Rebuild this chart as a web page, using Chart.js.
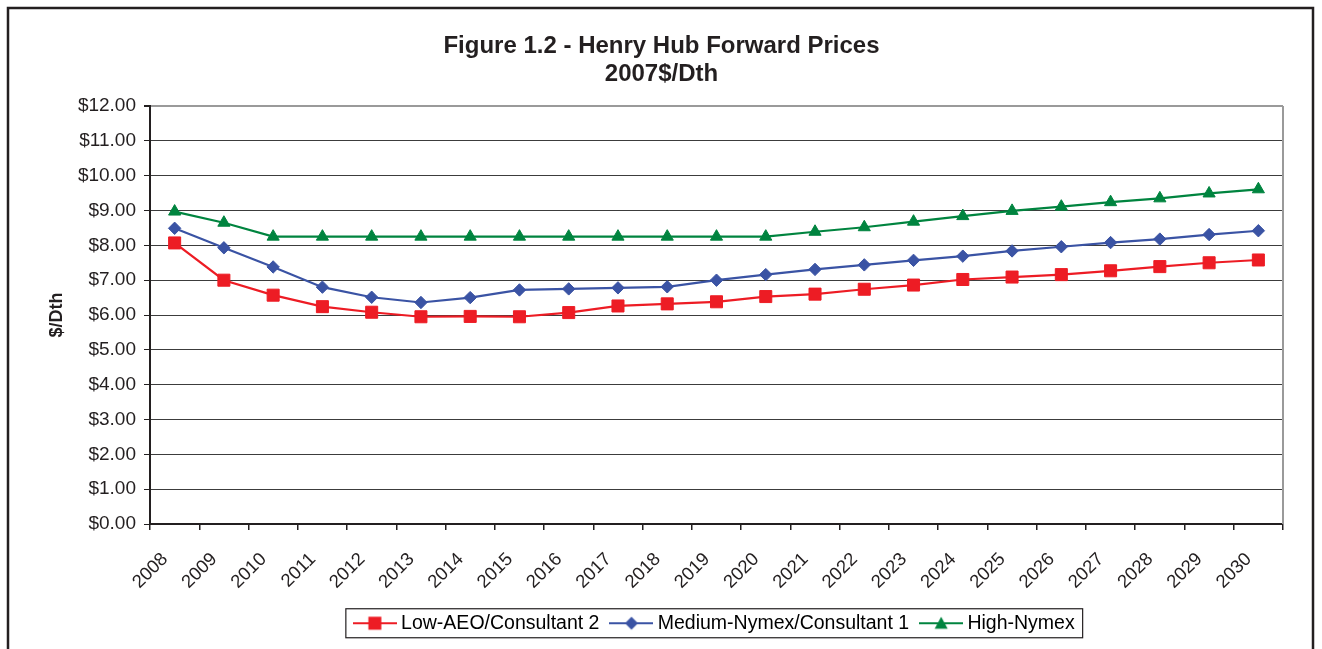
<!DOCTYPE html>
<html>
<head>
<meta charset="utf-8">
<title>Henry Hub Forward Prices</title>
<script src="https://cdn.jsdelivr.net/npm/chart.js@4.4.1/dist/chart.umd.min.js"></script>
<style>
  html, body { margin: 0; padding: 0; background: #fff; }
  #wrap { position: relative; width: 1322px; height: 649px; }
</style>
</head>
<body>
<div id="wrap"><canvas id="myChart" width="1322" height="649"></canvas></div>
<script>
// data
var years = ['2008','2009','2010','2011','2012','2013','2014','2015','2016','2017','2018','2019',
             '2020','2021','2022','2023','2024','2025','2026','2027','2028','2029','2030'];

var lowAeo = [8.07, 7.00, 6.57, 6.24, 6.08, 5.95, 5.96, 5.95, 6.07, 6.26, 6.32, 6.38,
              6.53, 6.60, 6.74, 6.86, 7.02, 7.09, 7.16, 7.27, 7.39, 7.50, 7.58];

var mediumNymex = [8.49, 7.93, 7.38, 6.80, 6.51, 6.36, 6.50, 6.72, 6.75, 6.78, 6.81, 7.00,
                   7.16, 7.31, 7.44, 7.57, 7.69, 7.84, 7.96, 8.08, 8.18, 8.31, 8.42];

var highNymex = [8.97, 8.65, 8.25, 8.25, 8.25, 8.25, 8.25, 8.25, 8.25, 8.25, 8.25, 8.25,
                 8.25, 8.39, 8.52, 8.68, 8.84, 8.99, 9.11, 9.24, 9.35, 9.49, 9.61];

var seriesNames = ['Low-AEO/Consultant 2', 'Medium-Nymex/Consultant 1', 'High-Nymex'];
var titleLines = ['Figure 1.2 - Henry Hub Forward Prices', '2007$/Dth'];

var RED = '#ed1c24', BLUE = '#3a53a4', GREEN = '#00843f', INK = '#231f20';
var FONT = "'Liberation Sans', Arial, sans-serif";

// legend swatch: short line with the marker on it
function swatch(color, style) {
	var c = document.createElement('canvas');
	c.width = 44; c.height = 16;
	var g = c.getContext('2d');
	g.strokeStyle = color;
	g.fillStyle = color;
	g.lineWidth = 2;
	g.beginPath(); g.moveTo(0, 8); g.lineTo(44, 8); g.stroke();
	g.beginPath();
	if (style === 'rect') {
		g.rect(15.5, 1.5, 13, 13);
	} else if (style === 'rectRot') {
		g.moveTo(15.5, 8); g.lineTo(22, 1.5); g.lineTo(28.5, 8); g.lineTo(22, 14.5); g.closePath();
	} else {
		g.moveTo(22, 1.5); g.lineTo(28.5, 13.5); g.lineTo(15.5, 13.5); g.closePath();
	}
	g.fill();
	return c;
}

var swatches = [swatch(RED, 'rect'), swatch(BLUE, 'rectRot'), swatch(GREEN, 'triangle')];

// white page, outer frame, plot right edge and legend box
var framePlugin = {
	id: 'frame',
	beforeDraw: function (chart) {
		var c = chart.ctx;
		c.save();
		c.fillStyle = '#fff';
		c.fillRect(0, 0, chart.width, chart.height);
		c.restore();
	},
	afterDraw: function (chart) {
		var c = chart.ctx, a = chart.chartArea;
		c.save();
		c.strokeStyle = INK;
		c.lineWidth = 2.5;
		c.strokeRect(8, 8, 1305, 700);

		c.strokeStyle = '#9a9a9a';
		c.lineWidth = 2;
		c.beginPath(); c.moveTo(a.right, a.top); c.lineTo(a.right, a.bottom); c.stroke();

		var hb = chart.legend.legendHitBoxes;
		if (hb && hb.length) {
			var first = hb[0], last = hb[hb.length - 1];
			var cy = first.top + 9.75;
			c.strokeStyle = INK;
			c.lineWidth = 1.2;
			c.strokeRect(first.left - 12.5, cy - 14.5, last.left + last.width + 8 - (first.left - 12.5), 29);
		}
		c.restore();
	}
};

var $chart = document.getElementById('myChart');

var myLineChart = new Chart($chart, {
	type: 'line',
	data: {
		labels: years,
		datasets: [{
			label: seriesNames[0],
			data: lowAeo,
			borderColor: RED,
			backgroundColor: RED,
			pointStyle: 'rect',
			pointRadius: 8.5,
			legendSwatch: 0
		}, {
			label: seriesNames[1],
			data: mediumNymex,
			borderColor: BLUE,
			backgroundColor: BLUE,
			pointStyle: 'rectRot',
			pointRadius: 6.2,
			legendSwatch: 1
		}, {
			label: seriesNames[2],
			data: highNymex,
			borderColor: GREEN,
			backgroundColor: GREEN,
			pointStyle: 'triangle',
			pointRadius: 7,
			legendSwatch: 2
		}]
	},
	options: {
		responsive: false,
		animation: false,
		devicePixelRatio: 1,
		layout: { padding: { top: 0, left: 40, right: 39, bottom: 6 } },
		elements: {
			line: { borderWidth: 2.2, tension: 0, fill: false },
			point: { borderWidth: 1, hoverRadius: 8 }
		},
		plugins: {
			title: {
				display: true,
				text: titleLines,
				color: INK,
				font: { family: FONT, size: 24, weight: 'bold', lineHeight: 1.18 },
				padding: { top: 32, bottom: 17.4 }
			},
			legend: {
				position: 'bottom',
				fullSize: false,
				labels: {
					usePointStyle: true,
					pointStyleWidth: 33,
					padding: 15.5,
					color: INK,
					font: { family: FONT, size: 19.5 },
					generateLabels: function (chart) {
						return chart.data.datasets.map(function (ds, i) {
							return {
								text: ds.label,
								pointStyle: swatches[ds.legendSwatch],
								fillStyle: ds.borderColor,
								strokeStyle: ds.borderColor,
								lineWidth: 0,
								hidden: false,
								datasetIndex: i
							};
						});
					}
				}
			},
			tooltip: { enabled: false }
		},
		scales: {
			x: {
				type: 'category',
				offset: true,
				grid: { offset: true, drawOnChartArea: false, drawTicks: true, tickLength: 6, color: INK, lineWidth: 1.5 },
				border: { color: INK, width: 2 },
				ticks: {
					autoSkip: false,
					minRotation: 45,
					maxRotation: 45,
					padding: 18.5,
					labelOffset: -9.6,
					color: INK,
					font: { family: FONT, size: 18.5 }
				},
				afterFit: function (scale) { scale.height = 74; }
			},
			y: {
				min: 0,
				max: 12,
				title: {
					display: true,
					text: '$/Dth',
					color: INK,
					font: { family: FONT, size: 18, weight: 'bold' },
					padding: { top: 6.2, bottom: 0 }
				},
				grid: {
					color: function (ctx) { return ctx.tick && ctx.tick.value === 12 ? '#9a9a9a' : '#3c3c3c'; },
					lineWidth: function (ctx) { return ctx.tick && ctx.tick.value === 12 ? 2 : 1; },
					tickColor: INK,
					tickLength: 6
				},
				border: { color: INK, width: 2 },
				ticks: {
					stepSize: 1,
					padding: 8,
					color: INK,
					font: { family: FONT, size: 19 },
					callback: function (v) { return '$' + Number(v).toFixed(2); }
				},
				afterFit: function (scale) { scale.width = 110; }
			}
		}
	},
	plugins: [framePlugin]
});
</script>
</body>
</html>
